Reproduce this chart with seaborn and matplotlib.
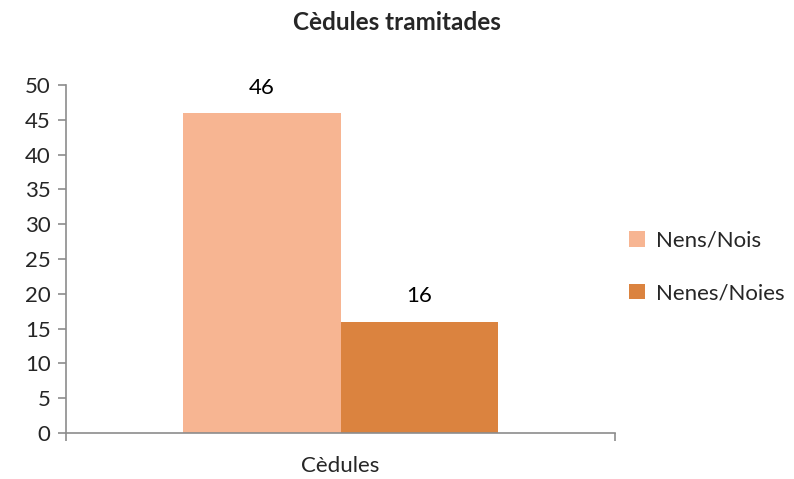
import pandas as pd
import seaborn as sns
import matplotlib.pyplot as plt

# Data
categories = ['Cèdules']
series_names = ['Nens/Nois', 'Nenes/Noies']
series_values = [46, 16]
colors = ['#F7B592', '#DB833F']

df = pd.DataFrame({
    'Categoria': categories * len(series_names),
    'Grup': series_names,
    'Valor': series_values,
})

sns.set_style('white')
plt.rcParams['font.family'] = ['Lato', 'DejaVu Sans']

fig = plt.figure(figsize=(7.94, 4.79), dpi=100)
ax = fig.add_axes([0.0831, 0.096, 0.6915, 0.7265])

sns.barplot(data=df, x='Categoria', y='Valor', hue='Grup', palette=colors,
            width=0.574, saturation=1, linewidth=0, ax=ax)

for container in ax.containers:
    ax.bar_label(container, padding=11, fontsize=16, color='black')

ax.set_xlim(-0.5, 0.5)
ax.set_ylim(0, 50)
ax.set_yticks(range(0, 51, 5))
ax.set_xlabel('')
ax.set_ylabel('')

# Axis styling
for side in ['top', 'right']:
    ax.spines[side].set_visible(False)
for side in ['left', 'bottom']:
    ax.spines[side].set_color('#8C8C8C')
    ax.spines[side].set_linewidth(1.2)

ax.tick_params(axis='y', which='major', left=True, direction='out', length=6,
               width=1.2, color='#8C8C8C', labelsize=16, pad=5)
ax.tick_params(axis='x', which='major', bottom=False, labelsize=16, pad=13)
ax.set_xticks([-0.5, 0.5], minor=True)
ax.tick_params(axis='x', which='minor', bottom=True, direction='out', length=6,
               width=1.2, color='#8C8C8C')

# Title centred on the figure
fig.text(0.5, 0.953, 'Cèdules tramitades', fontsize=17.5, fontweight='bold',
         ha='center', va='center')

leg = ax.legend(loc='center left', bbox_to_anchor=(1.01, 0.477), frameon=False,
                fontsize=16, handlelength=0.7, handleheight=0.7,
                labelspacing=1.45, handletextpad=0.5, borderaxespad=0)

fig.savefig('out.png', dpi=100)
